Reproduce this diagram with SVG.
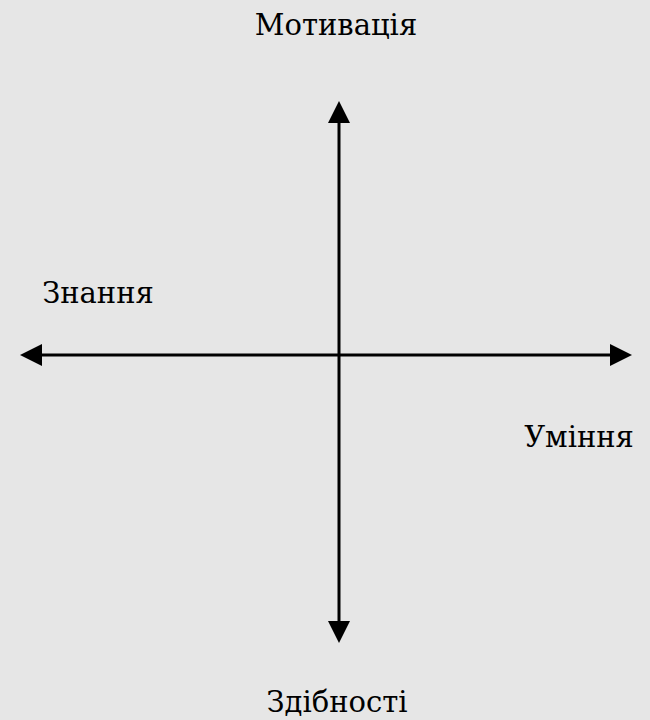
<svg xmlns="http://www.w3.org/2000/svg" width="650" height="720" viewBox="0 0 650 720">
<style>
text{font-family:'DejaVu Serif','Liberation Serif',serif;font-size:29px;fill:#000}
.ax{stroke:#000;stroke-width:3;fill:none}
.hd{fill:#000}
</style>
<rect width="650" height="720" fill="#e6e6e6"/>
<g id="connectors">
<line class="ax" x1="339" y1="120" x2="339" y2="624"/>
<line class="ax" x1="38" y1="355" x2="613" y2="355"/>
<polygon class="hd" points="339,101 328,123 350,123"/>
<polygon class="hd" points="339,643 328,621 350,621"/>
<polygon class="hd" points="20,355 42,344 42,366"/>
<polygon class="hd" points="632,355 610,344 610,366"/>
</g>
<g id="n-motyvatsiia"><text x="336" y="35" text-anchor="middle">Мотивація</text></g>
<g id="n-znannia"><text x="98" y="303" text-anchor="middle">Знання</text></g>
<g id="n-uminnia"><text x="579" y="447" text-anchor="middle">Уміння</text></g>
<g id="n-zdibnosti"><text x="337" y="712" text-anchor="middle">Здібності</text></g>
</svg>
